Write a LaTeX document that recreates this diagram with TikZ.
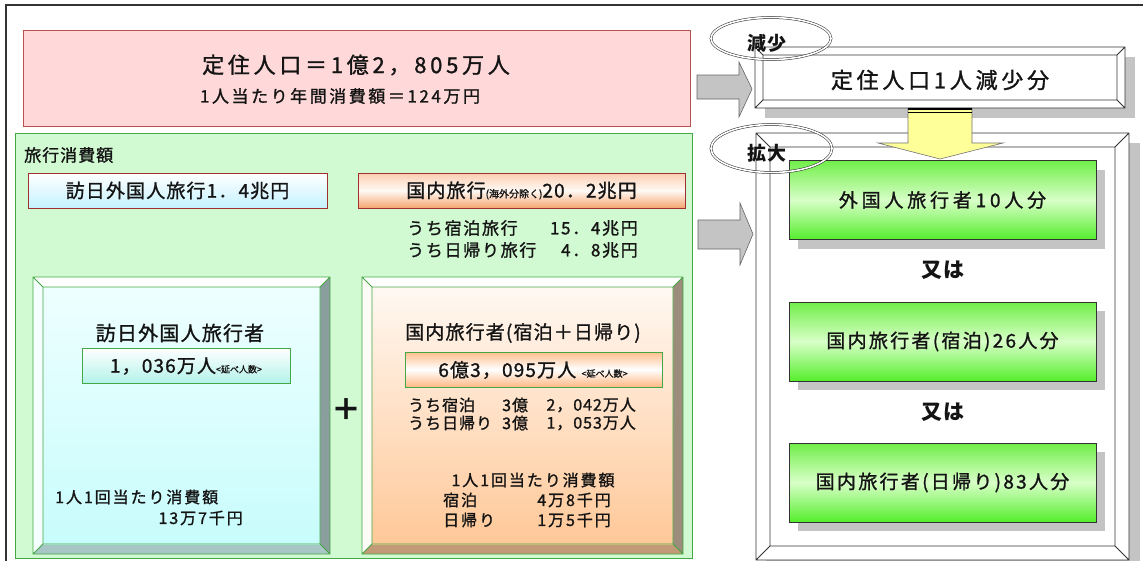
\documentclass[tikz,border=0pt]{standalone}
\usepackage{fontspec}
\setmainfont{Noto Sans CJK JP}[LetterSpace=6, FakeBold=1.2, BoldFeatures={FakeBold=0}]
\newcommand\fs[1]{\fontsize{#1}{#1}\selectfont}
\newcommand\ls[1]{\addfontfeature{LetterSpace=#1}}
\definecolor{txt}{HTML}{141414}
\definecolor{pinkfill}{HTML}{FFD9D9}
\definecolor{pinkline}{HTML}{B85050}
\definecolor{lgreen}{HTML}{D2FAD2}
\definecolor{gline}{HTML}{44A844}
\definecolor{redline}{HTML}{A03030}
\definecolor{blT}{HTML}{FFFFFF}
\definecolor{blL}{HTML}{F6FFFF}
\definecolor{blR}{HTML}{8A9E9E}
\definecolor{blB}{HTML}{A8C6C6}
\definecolor{orT}{HTML}{FFFFFF}
\definecolor{orL}{HTML}{FFFBF6}
\definecolor{orR}{HTML}{9C8C7C}
\definecolor{orB}{HTML}{C29A78}
\definecolor{frT}{HTML}{FFFFFF}
\definecolor{frL}{HTML}{FFFFFF}
\definecolor{frR}{HTML}{FFFFFF}
\definecolor{frB}{HTML}{FFFFFF}
\definecolor{shadow}{HTML}{C4C4C4}
\definecolor{garrowfill}{HTML}{C4C4C4}
\definecolor{yarrowfill}{HTML}{FFFF99}
\definecolor{gtop}{HTML}{70EE48}
\definecolor{gmid}{HTML}{D8FFC8}
\definecolor{gbot}{HTML}{55EE2C}
\definecolor{cyface1}{HTML}{EEFFFF}
\definecolor{cyface2}{HTML}{C8FCFC}
\definecolor{orface1}{HTML}{FFF8F2}
\definecolor{orface2}{HTML}{FFC898}
\definecolor{cybox2}{HTML}{B4F2EA}
\definecolor{orbox1}{HTML}{FFBE8C}
\definecolor{orbox2}{HTML}{FFB884}
\definecolor{ortop1}{HTML}{FBCDB0}
\definecolor{ortop2}{HTML}{F5A470}
\definecolor{cytop2}{HTML}{C4F2FF}
\tikzset{
  blface/.style={top color=cyface1, bottom color=cyface2},
  blline/.style={draw=gline, line width=0.9pt},
  orface/.style={top color=orface1, bottom color=orface2},
  orline/.style={draw=gline, line width=0.9pt},
  frface/.style={fill=white},
  frline/.style={draw=black!80, line width=0.8pt},
  lbl/.style={inner sep=0pt, text=txt},
  gbox/.style={draw=black!80, line width=1pt, top color=gtop, bottom color=gbot, middle color=gmid, minimum width=307pt, minimum height=79pt, inner sep=0pt, text=txt},
  sbox/.style={fill=shadow, minimum width=307pt, minimum height=79pt},
  garrow/.style={fill=garrowfill, draw=black!60, line width=0.6pt},
  tag/.style={draw=black!85, double, double distance=1.6pt, line width=0.5pt, ellipse, inner sep=0pt}
}
\usetikzlibrary{shapes.geometric}
\newcommand\bevelbox[6]{%
 \fill[#6T] (#1,#2) -- (#3,#2) -- ({#3-#5},{#2+#5}) -- ({#1+#5},{#2+#5}) -- cycle;
 \fill[#6L] (#1,#2) -- ({#1+#5},{#2+#5}) -- ({#1+#5},{#4-#5}) -- (#1,#4) -- cycle;
 \fill[#6R] (#3,#2) -- (#3,#4) -- ({#3-#5},{#4-#5}) -- ({#3-#5},{#2+#5}) -- cycle;
 \fill[#6B] (#1,#4) -- (#3,#4) -- ({#3-#5},{#4-#5}) -- ({#1+#5},{#4-#5}) -- cycle;
 \path[#6face] ({#1+#5},{#2+#5}) rectangle ({#3-#5},{#4-#5});
 \draw[#6line] (#1,#2) rectangle (#3,#4) ({#1+#5},{#2+#5}) rectangle ({#3-#5},{#4-#5})
   (#1,#2) -- ++(#5,#5) (#3,#2) -- ++(-#5,#5) (#1,#4) -- ++(#5,-#5) (#3,#4) -- ++(-#5,-#5);
}
\begin{document}
\begin{tikzpicture}[x=1pt,y=-1pt]
\useasboundingbox (0,0) rectangle (1143,560);
\fill[white] (0,0) rectangle (1143,560);
% outer frame
\draw[black!80, line width=1.3pt] (6,562) -- (6,5) -- (1145,5);

% ---- left: population
\node[fill=pinkfill, draw=pinkline, line width=0.9pt, minimum width=667pt, minimum height=96pt, inner sep=0pt] (pop) at (356.5,78) {};
\node[lbl, font=\fs{22}\ls{17}] (popt) at (356,65) {定住人口＝1億2，805万人};
\node[lbl, font=\fs{17}\ls{15}] (pops) at (340,96) {1人当たり年間消費額＝124万円};

% ---- travel spending
\node[fill=lgreen, draw=gline, line width=0.9pt, minimum width=677pt, minimum height=425pt, inner sep=0pt] (spend) at (353.5,345.5) {};
\node[lbl, font=\fs{17}, anchor=west] (spendt) at (24,155) {旅行消費額};
\node[draw=redline, line width=0.9pt, top color=white, bottom color=cytop2, minimum width=299pt, minimum height=35pt, inner sep=0pt, text=txt, font=\fs{19}] (inb) at (177.5,190.5) {訪日外国人旅行1．4兆円};
\node[draw=redline, line width=0.9pt, top color=ortop1, bottom color=ortop2, middle color=orange!4, minimum width=327pt, minimum height=35pt, inner sep=0pt, text=txt, font=\fs{19}] (dom) at (521.5,190.5) {国内旅行{\fs{10}\ls{0}(海外分除く)}20．2兆円};
\node[lbl, font=\fs{17}\ls{10}, anchor=west] (dom1a) at (407,228) {うち宿泊旅行};
\node[lbl, font=\fs{17}\ls{10}, anchor=east] (dom1b) at (638,228) {15．4兆円};
\node[lbl, font=\fs{17}\ls{10}, anchor=west] (dom2a) at (407,250) {うち日帰り旅行};
\node[lbl, font=\fs{17}\ls{10}, anchor=east] (dom2b) at (638,250) {4．8兆円};

% ---- bevel boxes
\bevelbox{33}{277}{330}{554}{10}{bl}
\bevelbox{362}{277}{683}{554}{10}{or}
\node[lbl, font=\fs{20}] (vt) at (180,333) {訪日外国人旅行者};
\node[draw=gline, line width=0.9pt, top color=white, bottom color=cybox2, minimum width=208pt, minimum height=35pt, inner sep=0pt] (vbox) at (186,365.5) {};
\node[lbl, font=\fs{19}] (vnum) at (186,366) {1，036万人{\fs{9}\ls{0}<延べ人数>}};
\node[lbl, font=\fs{16}\ls{12}, anchor=west] (vper) at (55,497) {1人1回当たり消費額};
\node[lbl, font=\fs{16}\ls{12}, anchor=east] (vperv) at (243,518) {13万7千円};
\node[lbl, font=\fs{30}\bfseries] (plus) at (346,410) {＋};

\node[lbl, font=\fs{19}] (dt) at (523,333) {国内旅行者(宿泊＋日帰り)};
\node[draw=gline, line width=0.9pt, top color=orbox1, bottom color=orbox2, middle color=white, minimum width=257pt, minimum height=35pt, inner sep=0pt] (dbox) at (533.5,369.5) {};
\node[lbl, font=\fs{19}] (dnum) at (533,370) {6億3，095万人 {\fs{9}\ls{0}<延べ人数>}};
\node[lbl, font=\fs{16}, anchor=west] (d1a) at (408,405) {うち宿泊};
\node[lbl, font=\fs{16}, anchor=west] (d1b) at (502,405) {3億};
\node[lbl, font=\fs{16}, anchor=east] (d1c) at (636,405) {2，042万人};
\node[lbl, font=\fs{16}, anchor=west] (d2a) at (408,423) {うち日帰り};
\node[lbl, font=\fs{16}, anchor=west] (d2b) at (502,423) {3億};
\node[lbl, font=\fs{16}, anchor=east] (d2c) at (636,423) {1，053万人};
\node[lbl, font=\fs{16}\ls{12}] (dper) at (533,480) {1人1回当たり消費額};
\node[lbl, font=\fs{16}\ls{12}, anchor=west] (ds1) at (443,500) {宿泊};
\node[lbl, font=\fs{16}\ls{12}, anchor=east] (ds2) at (611,500) {4万8千円};
\node[lbl, font=\fs{16}\ls{12}, anchor=west] (dd1) at (443,520) {日帰り};
\node[lbl, font=\fs{16}\ls{12}, anchor=east] (dd2) at (611,520) {1万5千円};

% ---- right side
\fill[shadow] (765,57) rectangle (1135,118);
\bevelbox{755}{47}{1125}{108}{8}{fr}
\node[lbl, font=\fs{22}\ls{17}] (dec) at (940,80) {定住人口1人減少分};

\fill[shadow] (766,143) rectangle (1140,570);
\bevelbox{756}{133}{1129}{560}{14}{fr}

\node[sbox] (s1) at (951.5,209) {};
\node[sbox] (s2) at (951.5,350.5) {};
\node[sbox] (s3) at (951.5,491.5) {};
\node[gbox, font=\fs{19}\ls{20}] (g1) at (942.5,200) {外国人旅行者10人分};
\node[gbox, font=\fs{19}\ls{12}] (g2) at (942.5,341.5) {国内旅行者(宿泊)26人分};
\node[gbox, font=\fs{19}\ls{12}] (g3) at (942.5,482.5) {国内旅行者(日帰り)83人分};
\node[lbl, font=\fs{21}\bfseries] (or1) at (943,270) {又は};
\node[lbl, font=\fs{21}\bfseries] (or2) at (943,412) {又は};

% arrows
\draw[garrow] (697,75) -- (739,75) -- (739,62) -- (752,89) -- (739,117) -- (739,99) -- (697,99) -- cycle;
\draw[garrow] (698,220) -- (740,220) -- (740,203) -- (753,234) -- (740,265) -- (740,249) -- (698,249) -- cycle;
\draw[fill=yarrowfill, draw=black!55, line width=0.6pt] (908,108) -- (972,108) -- (972,143) -- (1003,143) -- (940,159) -- (878,143) -- (908,143) -- cycle;
\draw[line width=2pt] (908,108.5) -- (972,108.5);
\draw[line width=0.7pt] (908,112.5) -- (972,112.5);

% tags
\node[tag, minimum width=120pt, minimum height=42pt] (e1) at (771,38.5) {};
\node[lbl, font=\fs{19}\bfseries] (e1t) at (767,43) {減少};
\node[tag, minimum width=121pt, minimum height=48pt] (e2) at (771.5,148.5) {};
\node[lbl, font=\fs{19}\bfseries] (e2t) at (767,153) {拡大};
\end{tikzpicture}
\end{document}
